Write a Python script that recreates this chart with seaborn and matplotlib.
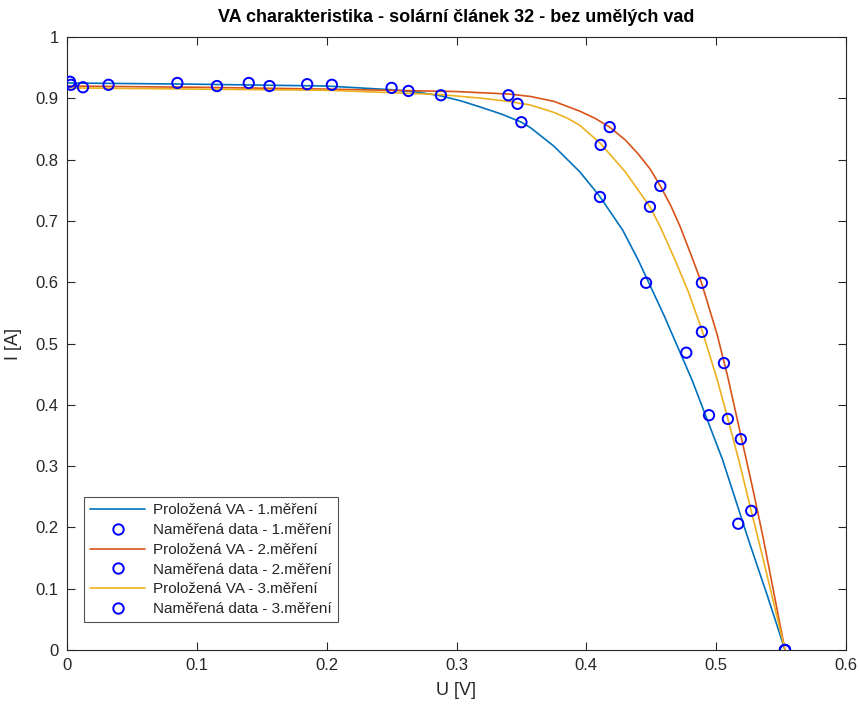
import matplotlib
matplotlib.use("Agg")
import matplotlib.pyplot as plt
import seaborn as sns
import pandas as pd
from matplotlib.lines import Line2D

# ---- fitted curves ----
fit1_U = [0.000, 0.100, 0.200, 0.250, 0.270, 0.288, 0.303, 0.318, 0.335, 0.350, 0.357,
          0.375, 0.395, 0.410, 0.428, 0.440, 0.460, 0.4815, 0.505, 0.525, 0.540, 0.553]
fit1_I = [0.925, 0.923, 0.920, 0.914, 0.910, 0.904, 0.896, 0.886, 0.874, 0.861, 0.852,
          0.822, 0.780, 0.741, 0.685, 0.636, 0.545, 0.440, 0.310, 0.179, 0.085, 0.000]

fit2_U = [0.000, 0.100, 0.200, 0.300, 0.340, 0.357, 0.375, 0.395, 0.407, 0.418, 0.430,
          0.440, 0.449, 0.457, 0.465, 0.472, 0.4815, 0.489, 0.5007, 0.509, 0.519, 0.528,
          0.536, 0.553]
fit2_I = [0.920, 0.918, 0.915, 0.911, 0.907, 0.903, 0.895, 0.879, 0.867, 0.853, 0.832,
          0.809, 0.785, 0.757, 0.725, 0.692, 0.640, 0.597, 0.515, 0.445, 0.350, 0.265,
          0.185, 0.000]

fit3_U = [0.000, 0.100, 0.203, 0.288, 0.320, 0.340, 0.357, 0.375, 0.385, 0.395, 0.411,
          0.430, 0.449, 0.457, 0.468, 0.479, 0.489, 0.5007, 0.509, 0.518, 0.527, 0.536, 0.553]
fit3_I = [0.917, 0.915, 0.913, 0.906, 0.900, 0.895, 0.889, 0.877, 0.868, 0.856, 0.826,
          0.780, 0.723, 0.690, 0.638, 0.582, 0.522, 0.442, 0.377, 0.305, 0.227, 0.150, 0.000]

# ---- measured data ----
meas1_U = [0.0023, 0.085, 0.140, 0.185, 0.288, 0.350, 0.4105, 0.446, 0.477, 0.4945, 0.517, 0.553]
meas1_I = [0.927, 0.925, 0.925, 0.923, 0.905, 0.861, 0.739, 0.599, 0.485, 0.383, 0.206, 0.000]

meas2_U = [0.003, 0.032, 0.204, 0.250, 0.340, 0.418, 0.457, 0.489, 0.506, 0.519, 0.553]
meas2_I = [0.922, 0.922, 0.922, 0.917, 0.905, 0.853, 0.757, 0.599, 0.468, 0.344, 0.000]

meas3_U = [0.0123, 0.1155, 0.156, 0.263, 0.347, 0.411, 0.449, 0.489, 0.509, 0.527, 0.553]
meas3_I = [0.918, 0.920, 0.920, 0.912, 0.891, 0.824, 0.723, 0.519, 0.377, 0.227, 0.000]

labels_fit = ["Proložená VA - 1.měření", "Proložená VA - 2.měření", "Proložená VA - 3.měření"]
labels_meas = ["Naměřená data - 1.měření", "Naměřená data - 2.měření", "Naměřená data - 3.měření"]
title = "VA charakteristika - solární článek 32 - bez umělých vad"
xticks = [0, 0.1, 0.2, 0.3, 0.4, 0.5, 0.6]
xticklabels = ["0", "0.1", "0.2", "0.3", "0.4", "0.5", "0.6"]
yticks = [0, 0.1, 0.2, 0.3, 0.4, 0.5, 0.6, 0.7, 0.8, 0.9, 1]
yticklabels = ["0", "0.1", "0.2", "0.3", "0.4", "0.5", "0.6", "0.7", "0.8", "0.9", "1"]

sns.set_style("ticks")
plt.rcParams['font.family'] = ['Liberation Sans', 'DejaVu Sans']

line_colors = ["#0072BD", "#D95319", "#EDB120"]
fits = [(fit1_U, fit1_I), (fit2_U, fit2_I), (fit3_U, fit3_I)]
meas = [(meas1_U, meas1_I), (meas2_U, meas2_I), (meas3_U, meas3_I)]

fig = plt.figure(figsize=(8.59, 7.06), dpi=100)
ax = fig.add_axes([67/859, 1 - 650/706, (846-67)/859, (650-37)/706])

handles, labels = [], []
for i in range(3):
    df_f = pd.DataFrame({"U": fits[i][0], "I": fits[i][1]})
    sns.lineplot(data=df_f, x="U", y="I", ax=ax, color=line_colors[i], lw=1.2,
                 sort=False, estimator=None, legend=False)
    df_m = pd.DataFrame({"U": meas[i][0], "I": meas[i][1]})
    sns.scatterplot(data=df_m, x="U", y="I", ax=ax, marker="o", s=55,
                    facecolors="none", edgecolor="#0000FF", linewidth=1.4,
                    legend=False, zorder=5)
    handles.append(Line2D([], [], color=line_colors[i], lw=1.2))
    labels.append(labels_fit[i])
    handles.append(Line2D([], [], ls="none", marker="o", markersize=7.5,
                          markerfacecolor="none", markeredgecolor="#0000FF", mew=1.4))
    labels.append(labels_meas[i])

ax.set_xlim(0, 0.6)
ax.set_ylim(0, 1)
ax.set_xticks(xticks)
ax.set_xticklabels(xticklabels)
ax.set_yticks(yticks)
ax.set_yticklabels(yticklabels)
ax.tick_params(direction="in", top=True, right=True, length=6, width=0.8,
               colors="#262626", labelsize=12, pad=6)
for sp in ax.spines.values():
    sp.set_visible(True)
    sp.set_color("#262626")
    sp.set_linewidth(0.8)

ax.set_xlabel("U [V]", fontsize=13, color="#262626", labelpad=6)
ax.set_ylabel("I [A]", fontsize=13, color="#262626", labelpad=10)
ax.set_title(title, fontsize=13, fontweight="bold", color="black", pad=11)

leg = ax.legend(handles, labels, loc="lower left", bbox_to_anchor=(0.022, 0.045),
                fontsize=11, frameon=True, fancybox=False, handlelength=3.6,
                handletextpad=0.5, labelspacing=0.38, borderpad=0.4, borderaxespad=0)
leg.get_frame().set_edgecolor("#262626")
leg.get_frame().set_linewidth(0.8)

fig.savefig("out.png", dpi=100, facecolor="white")
